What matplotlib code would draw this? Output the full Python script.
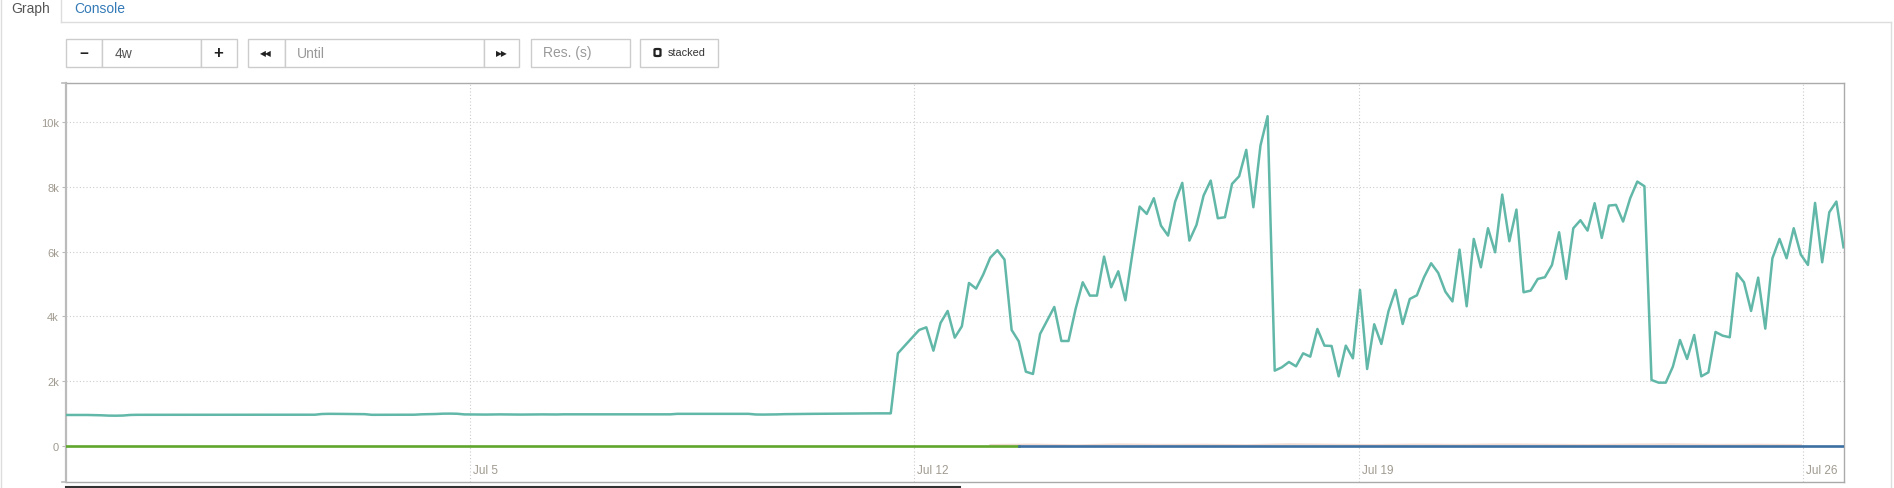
import datetime as dt
import matplotlib
matplotlib.use("Agg")
import matplotlib.pyplot as plt
import matplotlib.dates as mdates
import matplotlib.ticker as ticker
import matplotlib.transforms as mtransforms
from matplotlib.patches import Rectangle, FancyBboxPatch
from matplotlib.lines import Line2D

W, H = 1894, 489
plt.rcParams['font.family'] = ['Liberation Sans', 'DejaVu Sans']

# range query: 4w ending "now", 250 steps (prometheus graph default resolution)
range_end = dt.datetime(2017, 7, 26, 15, 16)
range_len = dt.timedelta(weeks=4)
n_steps = 250

# main series, flat part before the jump
teal_flat = [950, 950, 948, 950, 945, 940, 930, 928, 932, 950,
             955, 955, 952, 955, 955, 955, 955, 957, 955, 955,
             955, 953, 955, 955, 957, 955, 955, 955, 955, 953,
             955, 955, 957, 955, 955, 958, 980, 985, 985, 982,
             980, 978, 975, 955, 955, 958, 955, 955, 955, 958,
             970, 975, 980, 990, 992, 988, 968, 965, 965, 962,
             965, 968, 965, 965, 962, 965, 965, 968, 965, 965,
             970, 970, 968, 970, 972, 970, 970, 968, 970, 970,
             972, 970, 970, 968, 970, 970, 985, 985, 982, 985,
             988, 985, 985, 982, 985, 985, 985, 965, 962, 965,
             968, 975, 978, 980, 982, 985, 985, 988, 990, 990,
             992, 995, 995, 998, 1000, 1000, 1000]
# main series after the jump (Jul 11 evening onwards)
teal_busy = [2856, 3100, 3340, 3578, 3660, 2938, 3794, 4165, 3340, 3691,
             5031, 4856, 5289, 5815, 6042, 5753, 3578, 3227, 2289, 2217,
             3454, 3870, 4289, 3237, 3237, 4230, 5052, 4640, 4640, 5846,
             4897, 5392, 4495, 5960, 7392, 7165, 7650, 6805, 6495, 7547,
             8124, 6341, 6825, 7733, 8196, 7031, 7062, 8093, 8330, 9145,
             7372, 9279, 10186, 2320, 2423, 2588, 2454, 2856, 2753, 3609,
             3093, 3083, 2144, 3093, 2701, 4815, 2371, 3753, 3145, 4155,
             4815, 3763, 4536, 4650, 5207, 5640, 5341, 4763, 4460, 6062,
             4310, 6392, 5516, 6722, 5980, 7763, 6320, 7299, 4743, 4794,
             5155, 5207, 5588, 6598, 5155, 6722, 6970, 6650, 7495, 6423,
             7423, 7444, 6929, 7650, 8165, 8021, 2031, 1949, 1949, 2443,
             3268, 2681, 3423, 2144, 2268, 3516, 3402, 3351, 5330, 5052,
             4165, 5196, 3619, 5794, 6392, 5794, 6722, 5908, 5588, 7505,
             5670, 7217, 7547, 6134]
teal_values = teal_flat + teal_busy

# series at zero: green until Jul 13, then blue
green_values = [0] * 135
blue_values = [0] * 117
# faint near-zero series, sampled every 6th step from index 130
faint_values = [20, 35, 10, 40, 25, 30, 15, 45, 30, 20, 35, 25, 40, 30, 20, 35, 45, 25, 30, 20]

y_ticks = [0, 2000, 4000, 6000, 8000, 10000]
x_tick_days = [dt.datetime(2017, 7, 5), dt.datetime(2017, 7, 12),
               dt.datetime(2017, 7, 19), dt.datetime(2017, 7, 26)]

step = range_len / n_steps
range_start = range_end - range_len
times = [range_start + i * step for i in range(n_steps + 1)]

fig = plt.figure(figsize=(W / 100, H / 100), dpi=100)
fig.patch.set_facecolor('white')


def fx(px):
    return px / W


def fy(py):
    return 1 - py / H


def box(x0, x1, y0, y1, ec='#cccccc'):
    fig.patches.append(Rectangle((fx(x0), fy(y1)), (x1 - x0) / W, (y1 - y0) / H,
                                 transform=fig.transFigure, fc='white', ec=ec, lw=1))


def hline(x0, x1, y, color, lw=1.0):
    fig.lines.append(Line2D([fx(x0), fx(x1)], [fy(y), fy(y)], transform=fig.transFigure,
                            color=color, lw=lw))


def vline(x, y0, y1, color, lw=1.0):
    fig.lines.append(Line2D([fx(x), fx(x)], [fy(y0), fy(y1)], transform=fig.transFigure,
                            color=color, lw=lw))


# tabs / panel
vline(1, 0, 489, '#dddddd')
vline(60.5, 0, 23, '#dddddd')
hline(60.5, 1891, 23, '#dddddd')
vline(1891, 23, 489, '#dddddd')
fig.text(fx(11.5), fy(9), 'Graph', color='#555555', fontsize=10, va='center')
fig.text(fx(74), fy(9), 'Console', color='#337ab7', fontsize=10, va='center')

# controls row
cy0, cy1 = 39.5, 67.5
cyc = (cy0 + cy1) / 2
cells = [(65.5, 101.8), (101.8, 200.7), (200.7, 236.5),
         (247.7, 284.5), (284.5, 483.8), (483.8, 519.2),
         (530.8, 629.7), (640.3, 718.4)]
for x0, x1 in cells:
    box(x0, x1, cy0, cy1)
fig.text(fx(83.6), fy(cyc), '\u2212', fontsize=11, fontweight='bold', ha='center', va='center', color='#222222')
fig.text(fx(114.4), fy(cyc), '4w', fontsize=10, va='center', color='#555555')
fig.text(fx(218.6), fy(cyc), '+', fontsize=12, fontweight='bold', ha='center', va='center', color='#222222')
fig.text(fx(266), fy(cyc), '\u25c0\u25c0', fontsize=5.5, ha='center', va='center', color='#222222',
         family='DejaVu Sans')
fig.text(fx(296.7), fy(cyc), 'Until', fontsize=10, va='center', color='#999999')
fig.text(fx(501.5), fy(cyc), '\u25b6\u25b6', fontsize=5.5, ha='center', va='center', color='#222222',
         family='DejaVu Sans')
fig.text(fx(543), fy(cyc), 'Res. (s)', fontsize=10, va='center', color='#999999')
# unchecked-box icon
fig.patches.append(FancyBboxPatch((fx(654.5), fy(cyc + 3.5)), 6 / W, 7 / H,
                                  boxstyle='round,pad=0,rounding_size=0.0012',
                                  transform=fig.transFigure, fc='white', ec='#222222', lw=1.6))
fig.text(fx(667.5), fy(cyc), 'stacked', fontsize=7.8, va='center', color='#333333')

# graph
ax_l, ax_r, ax_t, ax_b = 66, 1843.5, 84, 483
ax = fig.add_axes([fx(ax_l), fy(ax_b), (ax_r - ax_l) / W, (ax_b - ax_t) / H])
ax.set_xlim(range_start, range_end)
ax.set_ylim(-1122, 11212)

ax.plot(times[:len(green_values)], green_values, color='#5ea62c', lw=1.9, zorder=3)
ax.plot(times[-len(blue_values):], blue_values, color='#3c6fa2', lw=1.9, zorder=3)
ax.plot(times[130::6][:len(faint_values)], faint_values, color='#e3b7a7', lw=1.5, alpha=0.5, zorder=2)
ax.plot(times, teal_values, color='#62b8a8', lw=1.8, zorder=4)

ax.set_yticks(y_ticks)
ax.yaxis.set_major_formatter(ticker.FuncFormatter(lambda v, p: '0' if v == 0 else '%dk' % (v / 1000)))
ax.set_xticks(x_tick_days)
ax.set_xticklabels([])
ax.tick_params(axis='x', length=0)
ax.tick_params(axis='y', length=2.9, width=0.8, color='#bbbbbb', labelcolor='#a09a90',
               labelsize=8, pad=2.2)
ax.grid(True, color='#cccccc', lw=0.8, linestyle=(0, (1, 2)))
ax.set_axisbelow(True)

for side in ['top', 'right', 'bottom']:
    ax.spines[side].set_color('#aaaaaa')
    ax.spines[side].set_linewidth(1.0)
ax.spines['left'].set_color('#bbbbbb')
ax.spines['left'].set_linewidth(1.6)

lab_tr = mtransforms.blended_transform_factory(ax.transData, ax.transAxes) + \
    mtransforms.ScaledTranslation(3 / 100, 0, fig.dpi_scale_trans)
for d in x_tick_days:
    ax.text(mdates.date2num(d), 0.03, d.strftime('%b ') + str(d.day), transform=lab_tr,
            fontsize=8.5, color='#a09a90', ha='left', va='center')

# outer ticks of the y domain and the bar under the graph
hline(62, 66, ax_t, '#bbbbbb', 1.2)
hline(62, 66, ax_b, '#bbbbbb', 1.2)
hline(66, 960, 487.5, '#333333', 1.5)

fig.savefig('out.png', dpi=100, facecolor='white')
